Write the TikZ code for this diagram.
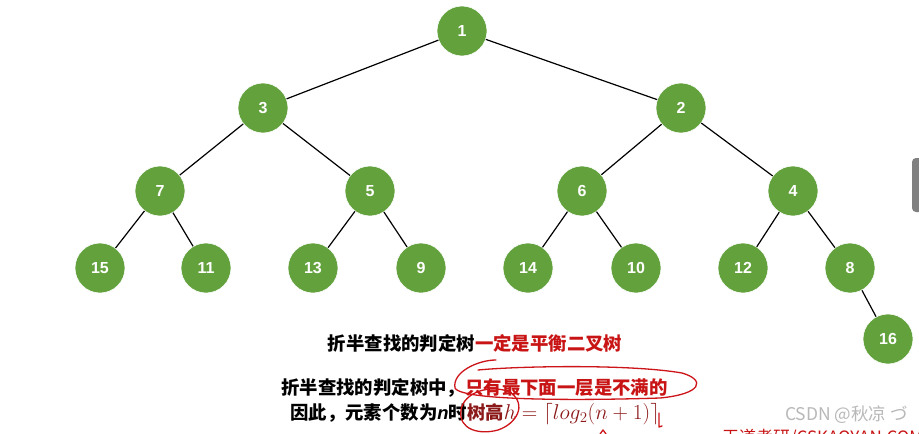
\documentclass[tikz,border=0pt]{standalone}
\usepackage{fontspec}
\setsansfont{Liberation Sans}
\newfontfamily\cjk{Noto Sans CJK SC}
\newfontfamily\numf{Liberation Sans}
\definecolor{nodegreen}{RGB}{98,161,60}
\definecolor{txtred}{RGB}{200,20,20}
\definecolor{darkred}{RGB}{140,25,25}
\definecolor{penred}{RGB}{205,20,25}
\begin{document}
\begin{tikzpicture}[x=1pt,y=-1pt,
  tnode/.style={circle,fill=nodegreen,draw=white,line width=0.6pt,minimum size=50pt,inner sep=0pt,
    text=white,font=\numf\bfseries\fontsize{16}{16}\selectfont},
  edge/.style={line width=1.2pt,black},
  pen/.style={penred,line width=1.3pt,line cap=round,line join=round},
  cn/.style={font=\cjk\bfseries\fontsize{18.4}{19}\selectfont,inner sep=0pt}]
\useasboundingbox (0,0) rectangle (919,434);
\fill[white] (0,0) rectangle (919,434);
% nodes
\node[tnode] (n1) at (462,31) {1};
\node[tnode] (n3) at (263,108) {3};
\node[tnode] (n2) at (681,108) {2};
\node[tnode] (n7) at (160,191) {7};
\node[tnode] (n5) at (370,191) {5};
\node[tnode] (n6) at (582,191) {6};
\node[tnode] (n4) at (793,191) {4};
\node[tnode] (n15) at (100,268) {15};
\node[tnode] (n11) at (206,268) {11};
\node[tnode] (n13) at (313,268) {13};
\node[tnode] (n9) at (421,268) {9};
\node[tnode] (n14) at (528,268) {14};
\node[tnode] (n10) at (636,268) {10};
\node[tnode] (n12) at (743,268) {12};
\node[tnode] (n8) at (850,268) {8};
\node[tnode] (n16) at (888,339) {16};
\foreach \a/\b in {n1/n3,n1/n2,n3/n7,n3/n5,n2/n6,n2/n4,n7/n15,n7/n11,n5/n13,n5/n9,n6/n14,n6/n10,n4/n12,n4/n8,n8/n16}
  \draw[edge] (\a) -- (\b);
% texts
\node[cn,anchor=center] (t1) at (475,343) {折半查找的判定树\textcolor{txtred}{一定是平衡二叉树}};
\node[cn,anchor=west] (t2) at (281,388) {折半查找的判定树中，\textcolor{txtred}{只有最下面一层是不满的}};
\node[cn,anchor=west] (t3) at (290,414) {因此，元素个数为{\numf\bfseries\itshape n}时\textcolor{darkred}{树高\resizebox{156pt}{!}{$h=\lceil log_2(n+1)\rceil$}}};
% watermark
\node[font=\cjk\fontsize{17.5}{18}\selectfont,text=black!28,anchor=east,inner sep=0pt] (wm) at (908,415) {CSDN @秋凉 づ};
\node[font=\cjk\fontsize{17}{17}\selectfont,text=txtred,anchor=west,inner sep=0pt] (wd) at (722,438) {王道考研/CSKAOYAN.COM};
% scrollbar
\fill[black!50,rounded corners=4pt] (912,158) rectangle (925,212);
% pen annotations
\draw[pen] (496,360) .. controls (478,360) and (452,372) .. (455,388)
  .. controls (462,402) and (600,400) .. (660,398)
  .. controls (702,394) and (706,380) .. (682,373)
  .. controls (630,364) and (520,366) .. (478,370);
\draw[pen] (510,392) .. controls (490,384) and (464,392) .. (461,410)
  .. controls (458,430) and (480,435) .. (498,430)
  .. controls (516,424) and (528,405) .. (510,392);
\draw[pen] (659,413) -- (659,427) -- (662,426);
\draw[pen] (600,434) -- (603,430) -- (606,434);
\end{tikzpicture}
\end{document}
